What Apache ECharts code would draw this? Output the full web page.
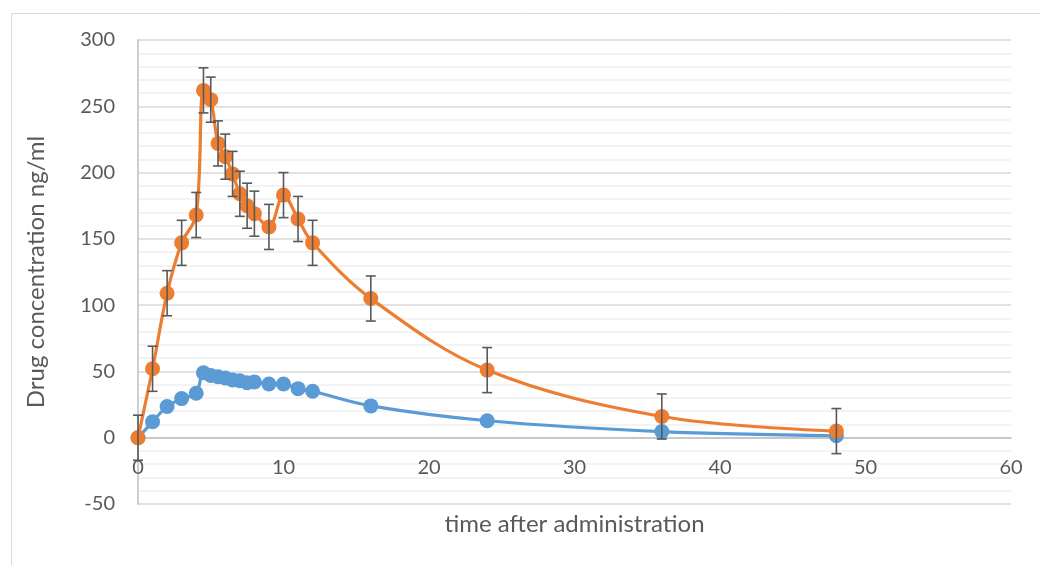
<!DOCTYPE html>
<html>
<head>
<meta charset="utf-8">
<script src="https://cdn.jsdelivr.net/npm/echarts@6/dist/echarts.min.js"></script>
<style>
  html, body { margin: 0; padding: 0; background: #ffffff; }
  #chart { width: 1040px; height: 565px; }
</style>
</head>
<body>
<div id="chart"></div>
<script>
// Sampling times (h) after administration
const timeHours = [0, 1, 2, 3, 4, 4.5, 5, 5.5, 6, 6.5, 7, 7.5, 8, 9, 10, 11, 12, 16, 24, 36, 48];
// Lower-dose plasma concentration (ng/ml)
const concLow = [0, 12, 23.5, 29.5, 33.5, 49, 47, 46, 45, 43.5, 43, 41.5, 42, 40.5, 40.5, 37, 35, 24, 12.8, 4.6, 1.5];
// Higher-dose plasma concentration (ng/ml)
const concHigh = [0, 52, 109, 147, 168, 262, 255, 222, 212, 199, 184, 175, 169, 159, 183, 165, 147, 105, 51, 16, 5];
// Error (+/-) on the higher-dose series
const concHighErr = [17, 17, 17, 17, 17, 17, 17, 17, 17, 17, 17, 17, 17, 17, 17, 17, 17, 17, 17, 17, 17];
// Axis labels
const xTitle = 'time after administration';
const yTitle = 'Drug concentration ng/ml';

const FONT = 'Lato';
const TEXT = '#595959';

const lowPoints = timeHours.map((t, i) => [t, concLow[i]]);
const highPoints = timeHours.map((t, i) => [t, concHigh[i]]);
const errRows = timeHours.map((t, i) => [t, concHigh[i] - concHighErr[i], concHigh[i] + concHighErr[i]]);

const chart = echarts.init(document.getElementById('chart'), null, { renderer: 'canvas' });

chart.setOption({
  animation: false,
  backgroundColor: '#ffffff',
  textStyle: { fontFamily: FONT },
  graphic: [{
    type: 'rect',
    left: 9, top: 11,
    shape: { width: 1200, height: 700 },
    style: { fill: 'none', stroke: '#d9d9d9', lineWidth: 1 },
    silent: true,
    z: -10
  }],
  grid: { left: 138, right: 29, top: 40, bottom: 61, outerBoundsMode: 'none', containLabel: false },
  xAxis: {
    type: 'value',
    min: 0, max: 60, interval: 10,
    name: xTitle,
    nameLocation: 'middle',
    nameGap: 8,
    nameMoveOverlap: false,
    nameTextStyle: { color: TEXT, fontSize: 24, fontFamily: FONT, verticalAlign: 'top' },
    axisLine: { show: true, onZero: true, lineStyle: { color: '#bfbfbf', width: 1.5 } },
    axisTick: { show: false },
    // labels sit just under the zero line, inside the negative band
    axisLabel: { color: TEXT, fontSize: 20, fontFamily: FONT, margin: -46 },
    splitLine: { show: false }
  },
  yAxis: {
    type: 'value',
    min: -50, max: 300, interval: 50,
    name: yTitle,
    nameLocation: 'middle',
    nameGap: 90,
    nameTextStyle: { color: TEXT, fontSize: 24, fontFamily: FONT },
    axisLine: { show: true, lineStyle: { color: '#bfbfbf', width: 1.5 } },
    axisTick: { show: false },
    axisLabel: { color: TEXT, fontSize: 20, fontFamily: FONT, margin: 23 },
    splitLine: { show: true, lineStyle: { color: '#d9d9d9', width: 1.5 } },
    minorTick: { show: false, splitNumber: 5 },
    minorSplitLine: { show: true, lineStyle: { color: '#f0f0f0', width: 1.5 } }
  },
  series: [
    {
      name: 'low',
      type: 'line',
      data: lowPoints,
      smooth: 0.35,
      symbol: 'circle',
      symbolSize: 15,
      lineStyle: { color: '#5b9bd5', width: 3.2 },
      itemStyle: { color: '#5b9bd5' },
      z: 2
    },
    {
      name: 'high',
      type: 'line',
      data: highPoints,
      smooth: 0.35,
      symbol: 'circle',
      symbolSize: 15,
      lineStyle: { color: '#ed7d31', width: 3.2 },
      itemStyle: { color: '#ed7d31' },
      z: 3
    },
    {
      name: 'high-error',
      type: 'custom',
      data: errRows,
      encode: { x: 0, y: [1, 2] },
      z: 4,
      renderItem: function (params, api) {
        const x = api.value(0);
        const lo = api.coord([x, api.value(1)]);
        const hi = api.coord([x, api.value(2)]);
        const half = 5;
        const style = { stroke: '#595959', lineWidth: 1.6, fill: 'none' };
        return {
          type: 'group',
          children: [
            { type: 'line', shape: { x1: hi[0], y1: hi[1], x2: lo[0], y2: lo[1] }, style: style },
            { type: 'line', shape: { x1: hi[0] - half, y1: hi[1], x2: hi[0] + half, y2: hi[1] }, style: style },
            { type: 'line', shape: { x1: lo[0] - half, y1: lo[1], x2: lo[0] + half, y2: lo[1] }, style: style }
          ]
        };
      }
    }
  ]
});
</script>
</body>
</html>
